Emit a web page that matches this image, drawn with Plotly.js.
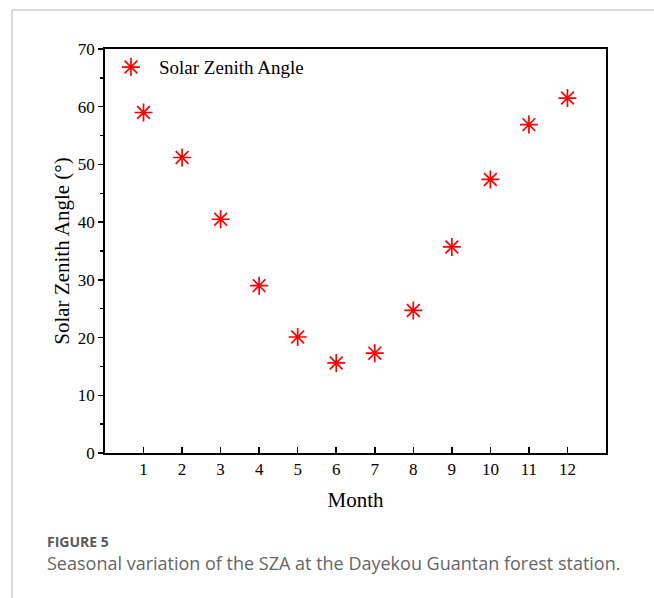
<!DOCTYPE html>
<html>
<head>
<meta charset="utf-8">
<script src="https://cdn.plot.ly/plotly-3.0.1.min.js"></script>
<style>
html,body{margin:0;padding:0;background:#fff;}
#chart{width:654px;height:598px;}
</style>
</head>
<body>
<div id="chart"></div>
<script>
const months = [1,2,3,4,5,6,7,8,9,10,11,12];
const sza = [59.0, 51.2, 40.5, 29.0, 20.1, 15.6, 17.3, 24.7, 35.7, 47.4, 56.9, 61.5];
const xTickVals = [1,2,3,4,5,6,7,8,9,10,11,12];
const xTickText = ['1','2','3','4','5','6','7','8','9','10','11','12'];
const seriesName = 'Solar Zenith Angle';
const xTitle = 'Month';
const yTitle = 'Solar Zenith Angle (°)';
const figLabel = 'FIGURE 5';
const caption = 'Seasonal variation of the SZA at the Dayekou Guantan forest station.';

const serif = 'Liberation Serif, Times New Roman, serif';
const sans = 'Open Sans, Lato, sans-serif';

const trace = {
  x: months, y: sza, type: 'scatter', mode: 'markers', name: seriesName,
  marker: {symbol: 'asterisk-open', size: 15, color: '#ff0000', line: {color: '#ff0000', width: 1.7}}
};

const layout = {
  width: 654, height: 598,
  margin: {l: 105, r: 48, t: 49, b: 145},
  paper_bgcolor: '#ffffff', plot_bgcolor: '#ffffff',
  font: {family: serif, color: '#000', size: 17},
  showlegend: true,
  legend: {x: -2/501, y: 1.002, xanchor: 'left', yanchor: 'top', bgcolor: 'rgba(0,0,0,0)',
           font: {family: serif, size: 19, color: '#000'}, itemwidth: 46},
  xaxis: {
    range: [0, 13], tickvals: xTickVals, ticktext: xTickText,
    ticks: 'inside', ticklen: 6, tickwidth: 1.5, tickcolor: '#000',
    showline: true, linecolor: '#000', linewidth: 1.8, mirror: true,
    showgrid: false, zeroline: false,
    tickfont: {family: serif, size: 17},
    title: {text: xTitle, font: {family: serif, size: 21}, standoff: 14}
  },
  yaxis: {
    range: [0, 70], dtick: 10, tick0: 0,
    ticks: 'outside', ticklen: 5, tickwidth: 1.5, tickcolor: '#000',
    minor: {dtick: 5, ticks: 'outside', ticklen: 3, tickwidth: 1.5, tickcolor: '#000'},
    showline: true, linecolor: '#000', linewidth: 1.8, mirror: true,
    showgrid: false, zeroline: false,
    tickfont: {family: serif, size: 17},
    title: {text: yTitle, font: {family: serif, size: 21}, standoff: 2}
  },
  shapes: [
    {type: 'line', xref: 'paper', yref: 'paper', x0: -93/501, x1: 549/501, y0: 1 + 39/404, y1: 1 + 39/404,
     line: {color: '#cccccc', width: 1.5}},
    {type: 'line', xref: 'paper', yref: 'paper', x0: -93/501, x1: -93/501, y0: 1 + 39/404, y1: -145/404,
     line: {color: '#cccccc', width: 1.5}}
  ],
  annotations: [
    {xref: 'paper', yref: 'paper', x: -60/501, y: -88/404, xanchor: 'left', yanchor: 'middle',
     text: '<b>' + figLabel + '</b>', showarrow: false,
     font: {family: sans, size: 14, color: '#5a5a5a'}},
    {xref: 'paper', yref: 'paper', x: -60/501, y: -110/404, xanchor: 'left', yanchor: 'middle',
     text: caption, showarrow: false,
     font: {family: sans, size: 18, color: '#666666'}}
  ]
};

Plotly.newPlot('chart', [trace], layout, {displayModeBar: false, staticPlot: true});
</script>
</body>
</html>
